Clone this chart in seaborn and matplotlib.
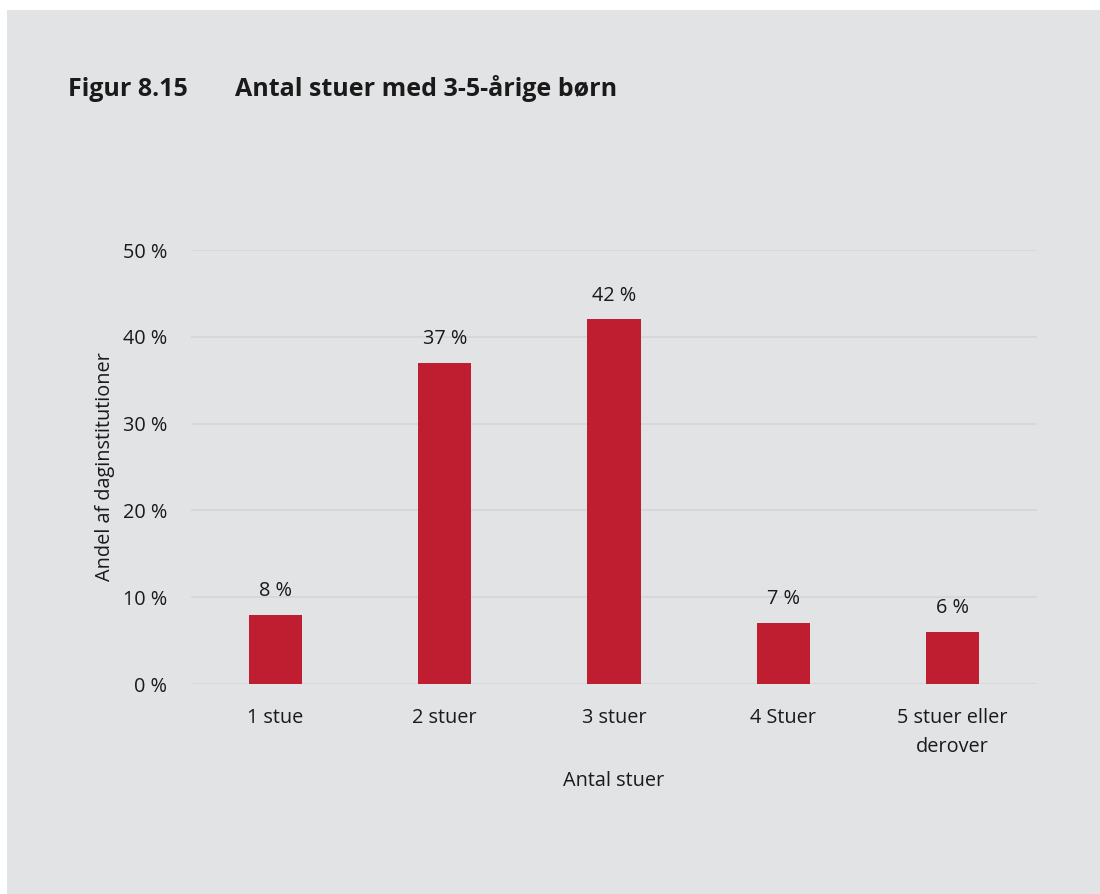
import matplotlib
matplotlib.use("Agg")
import matplotlib.pyplot as plt
from matplotlib.patches import Rectangle
import seaborn as sns
import pandas as pd

# Data
categories = ["1 stue", "2 stuer", "3 stuer", "4 Stuer", "5 stuer eller\nderover"]
shares = [8, 37, 42, 7, 6]
y_ticks = [0, 10, 20, 30, 40, 50]
y_tick_labels = ["0 %", "10 %", "20 %", "30 %", "40 %", "50 %"]

panel_color = "#e2e3e5"
bar_color = "#be1e2f"
grid_color = "#d5d6d8"
text_color = "#1a1a1a"
fs = 14.3

sns.set_theme(style="white")
plt.rcParams["font.family"] = ["Open Sans", "DejaVu Sans"]

W, H = 1100, 894
fig = plt.figure(figsize=(W / 100, H / 100), dpi=100, facecolor="white")

# grey panel behind everything, leaving a thin white margin top and left
fig.patches.append(Rectangle((7 / W, 0), 1 - 7 / W, 1 - 10 / H,
                             transform=fig.transFigure, facecolor=panel_color,
                             edgecolor="none", zorder=-10))

ax = fig.add_axes([191 / W, 210 / H, (1037 - 191) / W, (684 - 250) / H])
ax.set_facecolor(panel_color)

df = pd.DataFrame({"cat": categories, "share": shares})
sns.barplot(data=df, x="cat", y="share", color=bar_color, saturation=1,
            width=0.315, ax=ax, zorder=3, linewidth=0, edgecolor="none")

ax.set_xlim(-0.5, len(categories) - 0.5)
ax.set_ylim(0, 50)
ax.set_yticks(y_ticks)
ax.set_yticklabels(y_tick_labels)
for y in y_ticks:
    ax.axhline(y, color=grid_color, lw=1.3, zorder=1)

for s in ax.spines.values():
    s.set_visible(False)
ax.tick_params(axis="both", length=0, labelsize=fs, colors=text_color)
ax.tick_params(axis="y", pad=17)
ax.tick_params(axis="x", pad=17)
for lbl in ax.get_xticklabels():
    lbl.set_linespacing(1.6)

for i, v in enumerate(shares):
    ax.annotate(f"{v} %", (i, v), xytext=(0, 10), textcoords="offset points",
                ha="center", va="bottom", fontsize=fs, color=text_color)

ax.set_xlabel("Antal stuer", fontsize=fs, color=text_color, labelpad=10)
ax.set_ylabel("Andel af daginstitutioner", fontsize=fs, color=text_color,
              labelpad=6)

fig.text(68 / W, 1 - 96 / H, "Figur 8.15", fontsize=18, fontweight="bold",
         color=text_color, va="baseline", ha="left")
fig.text(235 / W, 1 - 96 / H, "Antal stuer med 3-5-årige børn", fontsize=18,
         fontweight="bold", color=text_color, va="baseline", ha="left")

fig.savefig("out.png", dpi=100, facecolor=fig.get_facecolor())
